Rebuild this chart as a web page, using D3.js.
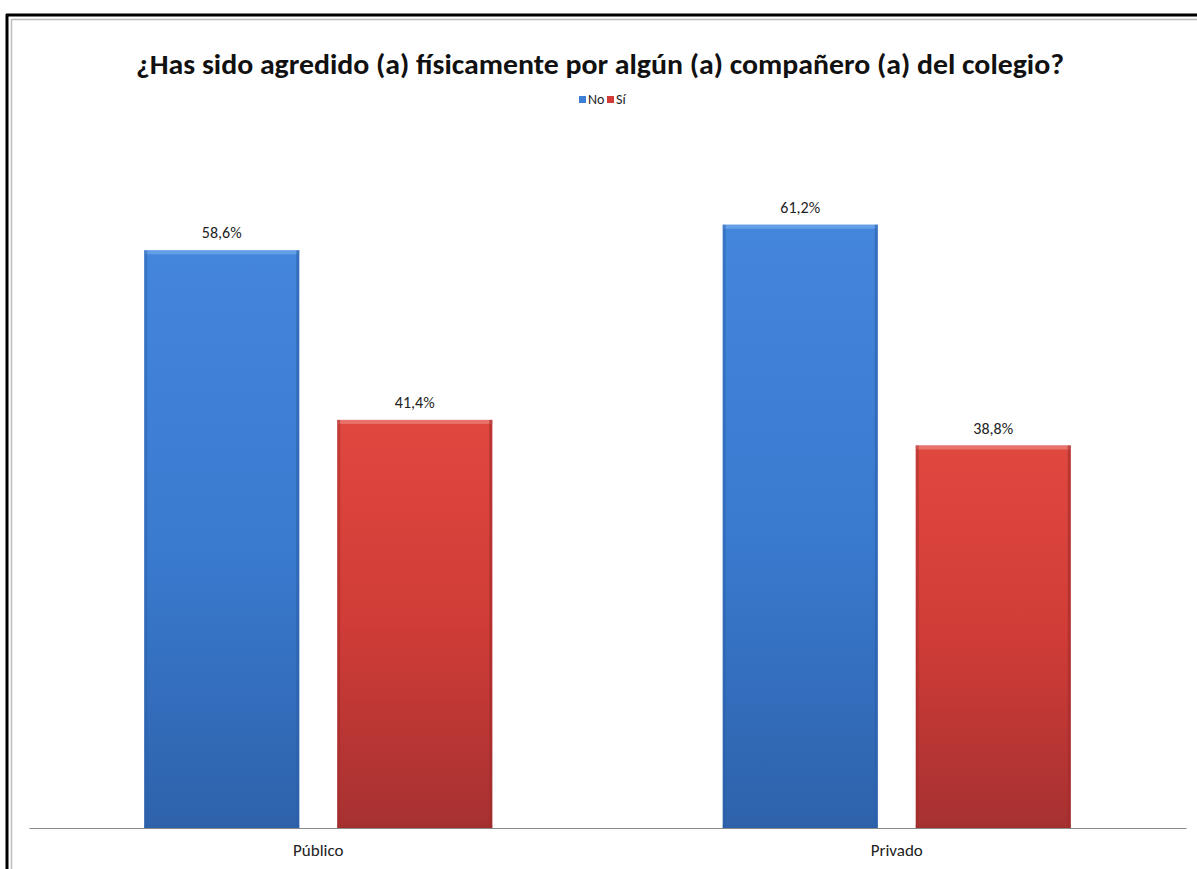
<!DOCTYPE html>
<html><head><meta charset="utf-8">
<script src="https://cdn.jsdelivr.net/npm/d3@7"></script>
<style>html,body{margin:0;padding:0;background:#fff;}svg{display:block;}</style>
</head><body>
<svg id="c" width="1197" height="869"></svg>
<script>
const categories = ["Público", "Privado"];
const seriesNames = ["No", "Sí"];
const noValues = [58.6, 61.2];
const siValues = [41.4, 38.8];
const labels = [["58,6%", "41,4%"], ["61,2%", "38,8%"]];
const titleText = "¿Has sido agredido (a) físicamente por algún (a) compañero (a) del colegio?";

const svg = d3.select("#c");
const W = 1197, H = 869;
const font = "Carlito, 'Liberation Sans Narrow', 'Liberation Sans', Arial, sans-serif";

const defs = svg.append("defs");
function grad(id, stops) {
  const g = defs.append("linearGradient").attr("id", id).attr("x1", 0).attr("y1", 0).attr("x2", 0).attr("y2", 1);
  stops.forEach(s => g.append("stop").attr("offset", s[0]).attr("stop-color", s[1]));
}
grad("gNo", [[0, "#4486dc"], [0.5, "#3a7bd0"], [1, "#2e62ab"]]);
grad("gSi", [[0, "#e0483f"], [0.5, "#d03c37"], [1, "#a63131"]]);
const fills = { "No": "url(#gNo)", "Sí": "url(#gSi)" };
const edge = { "No": "#6aa2e8", "Sí": "#ea7a72" };
const side = { "No": "#2b5fa8", "Sí": "#a02c2c" };
const legendCol = { "No": "#3c7fd4", "Sí": "#d23c38" };

// frame
svg.append("rect").attr("x", 0).attr("y", 0).attr("width", W).attr("height", H).attr("fill", "#fff");
svg.append("line").attr("x1", 6).attr("x2", W).attr("y1", 15).attr("y2", 15).attr("stroke", "#000").attr("stroke-width", 3);
svg.append("line").attr("x1", 7).attr("x2", 7).attr("y1", 14).attr("y2", H).attr("stroke", "#000").attr("stroke-width", 3);
svg.append("line").attr("x1", 11).attr("x2", W).attr("y1", 19.5).attr("y2", 19.5).attr("stroke", "#bcbcbc").attr("stroke-width", 1.5);
svg.append("line").attr("x1", 11.5).attr("x2", 11.5).attr("y1", 19).attr("y2", H).attr("stroke", "#bcbcbc").attr("stroke-width", 1.5);

// title
svg.append("text").attr("x", 600).attr("y", 74).attr("text-anchor", "middle")
  .attr("font-family", font).attr("font-weight", "bold").attr("font-size", 28)
  .attr("fill", "#111").attr("textLength", 928).attr("lengthAdjust", "spacingAndGlyphs")
  .text(titleText);

// legend
const leg = svg.append("g").attr("font-family", font).attr("font-size", 14).attr("fill", "#222");
const legItems = [{ n: "No", x: 579 }, { n: "Sí", x: 607 }];
legItems.forEach(d => {
  leg.append("rect").attr("x", d.x).attr("y", 96).attr("width", 7).attr("height", 7).attr("fill", legendCol[d.n]);
  leg.append("text").attr("x", d.x + 9).attr("y", 104).text(d.n);
});

// scales
const x0 = d3.scaleBand().domain(categories).range([29, 1186]).paddingInner(0).paddingOuter(0);
const groupW = 348;
const x1 = d3.scaleBand().domain(seriesNames).range([0, groupW]).paddingInner(0.197).paddingOuter(0);
const y = d3.scaleLinear().domain([0, 70]).range([828, 138]);

const data = categories.map((c, i) => ({
  cat: c,
  vals: [{ s: "No", v: noValues[i], lab: labels[i][0] }, { s: "Sí", v: siValues[i], lab: labels[i][1] }]
}));

const groups = svg.selectAll("g.grp").data(data).enter().append("g")
  .attr("transform", d => `translate(${x0(d.cat) + (x0.bandwidth() - groupW) / 2},0)`);

groups.each(function (d) {
  const g = d3.select(this);
  d.vals.forEach(b => {
    const bx = x1(b.s), bw = x1.bandwidth(), by = y(b.v), bh = y(0) - y(b.v);
    g.append("rect").attr("x", bx).attr("y", by).attr("width", bw).attr("height", bh).attr("fill", fills[b.s]);
    g.append("rect").attr("x", bx).attr("y", by).attr("width", bw).attr("height", 4).attr("fill", edge[b.s]).attr("opacity", 0.85);
    g.append("rect").attr("x", bx).attr("y", by).attr("width", 3).attr("height", bh).attr("fill", side[b.s]).attr("opacity", 0.45);
    g.append("rect").attr("x", bx + bw - 3).attr("y", by).attr("width", 3).attr("height", bh).attr("fill", side[b.s]).attr("opacity", 0.6);
    g.append("rect").attr("x", bx).attr("y", y(0) - 3).attr("width", bw).attr("height", 3).attr("fill", side[b.s]).attr("opacity", 0.4);
    g.append("text").attr("x", bx + bw / 2).attr("y", by - 12).attr("text-anchor", "middle")
      .attr("font-family", font).attr("font-size", 16).attr("fill", "#222").text(b.lab);
  });
});

// axis
const axis = svg.append("g").attr("transform", `translate(0,${y(0)})`)
  .call(d3.axisBottom(x0).tickSize(0).tickPadding(0));
axis.select(".domain").attr("stroke", "#8a8a8a").attr("stroke-width", 1.2);
axis.selectAll("text").attr("font-family", font).attr("font-size", 17).attr("fill", "#222")
  .attr("dy", null).attr("y", 28);
</script>
</body></html>
